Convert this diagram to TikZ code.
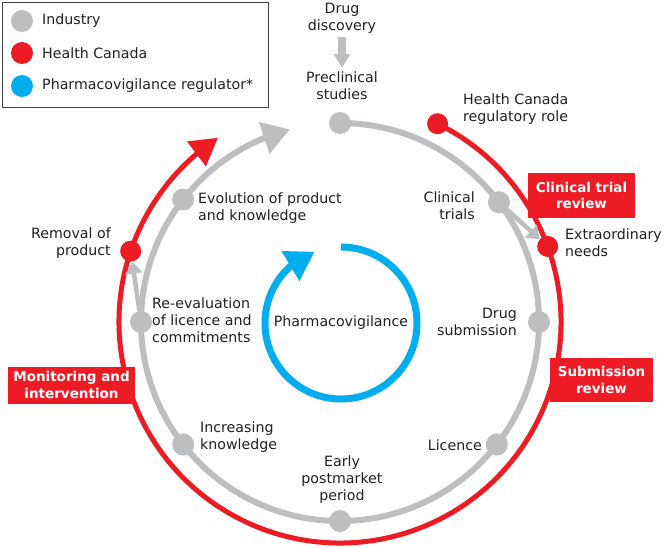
\documentclass[tikz,border=0pt]{standalone}
\usepackage{fontspec}
\setmainfont{DejaVu Sans}
\usetikzlibrary{arrows.meta,bending,calc}
\definecolor{ind}{HTML}{BCBEC0}
\definecolor{hc}{HTML}{ED1C24}
\definecolor{pv}{HTML}{00AEEF}
\definecolor{txt}{HTML}{231F20}
\tikzset{
  gdot/.style={circle,fill=ind,minimum size=22pt,inner sep=0pt},
  rdot/.style={circle,fill=hc,minimum size=21pt,inner sep=0pt},
  bdot/.style={circle,fill=pv,minimum size=22pt,inner sep=0pt},
  lbl/.style={inner sep=0pt,text=txt},
  redbox/.style={fill=hc,text=white,inner sep=0pt,align=center,font=\fontsize{13.5}{16.5}\selectfont\bfseries},
  garrow/.style={ind,line width=4.5pt,-{Triangle[length=12pt,width=17pt]}},
}
\begin{document}
\begin{tikzpicture}[x=1pt,y=1pt,font=\fontsize{14.2}{17}\selectfont]
\useasboundingbox (0,0) rectangle (666,-548);
\fill[white] (0,0) rectangle (666,-548);
\coordinate (C) at (340,-322);
\coordinate (C2) at (341,-323);

% main cycles
\draw[ind,line width=6pt,-{Triangle[length=27pt,width=32pt]}]
  ([shift={(90:199pt)}]C) arc[start angle=90,end angle=-255.4,radius=199pt];
\draw[hc,line width=5pt,-{Triangle[length=27pt,width=30pt]}]
  ([shift={(63.8:221pt)}]C) arc[start angle=63.8,end angle=-236.5,radius=221pt];
\draw[pv,line width=7pt,-{Triangle[length=28pt,width=33pt]}]
  ([shift={(90:76pt)}]C2) arc[start angle=90,end angle=-249.6,radius=76pt];

% industry dots
\node[gdot] (pre) at ([shift={(90:199pt)}]C) {};
\node[gdot] (ct)  at ([shift={(37:199pt)}]C) {};
\node[gdot] (ds)  at ([shift={(0:199pt)}]C) {};
\node[gdot] (li)  at ([shift={(-38:199pt)}]C) {};
\node[gdot] (ep)  at ([shift={(-90:199pt)}]C) {};
\node[gdot] (ik)  at ([shift={(-142:199pt)}]C) {};
\node[gdot] (re)  at ([shift={(180:199pt)}]C) {};
\node[gdot] (ev)  at ([shift={(142:199pt)}]C) {};
% health canada dots
\node[rdot] (hcd) at ([shift={(63.8:221pt)}]C) {};
\node[rdot] (ex)  at ([shift={(20:221pt)}]C) {};
\node[rdot] (rm)  at ([shift={(161.3:221pt)}]C) {};

% branch arrows
\draw[garrow] (ct) -- (ex);
\draw[garrow] (re) -- (rm);

% labels
\node[lbl,align=center] (dd) at (342,-18) {Drug\\discovery};
\node[lbl,align=center] (pc) at (342,-86) {Preclinical\\studies};
\draw[ind,line width=8pt,-{Triangle[length=14pt,width=16pt]},shorten <=4pt,shorten >=4pt] (dd) -- (pc);
\node[lbl,align=left,anchor=west] (hcl) at (463,-109) {Health Canada\\regulatory role};
\node[lbl,align=right,anchor=east] (ctl) at (475,-206) {Clinical\\trials};
\node[lbl,align=left,anchor=west] (exl) at (565,-243) {Extraordinary\\needs};
\node[lbl,align=right,anchor=east] (dsl) at (517,-322) {Drug\\submission};
\node[lbl,anchor=east] (lil) at (482,-445) {Licence};
\node[lbl,align=center] (epl) at (342,-480) {Early\\postmarket\\period};
\node[lbl,align=left,anchor=west] (ikl) at (200,-437) {Increasing\\knowledge};
\node[lbl,align=left,anchor=west] (rel) at (152,-320) {Re-evaluation\\of licence and\\commitments};
\node[lbl,align=left,anchor=west] (evl) at (198,-208) {Evolution of product\\and knowledge};
\node[lbl,align=right,anchor=east] (rml) at (111,-243) {Removal of\\product};
\node[lbl] (pvl) at (341,-323) {Pharmacovigilance};

% red boxes
\node[redbox,minimum width=107pt,minimum height=45pt] (ctr) at (581.5,-195.5) {Clinical trial\\review};
\node[redbox,minimum width=103pt,minimum height=44pt] (sbr) at (601.5,-380) {Submission\\review};
\node[redbox,minimum width=127pt,minimum height=37pt] (mir) at (71.5,-385) {Monitoring and\\intervention};

% legend
\node[draw=txt!85,line width=1.2pt,minimum width=266pt,minimum height=105pt,anchor=north west,inner sep=0pt] (legend) at (2,-2) {};
\node[gdot] (lg1) at (22,-21) {};
\node[rdot,minimum size=22pt] (lg2) at (22,-53) {};
\node[bdot] (lg3) at (22,-86) {};
\node[lbl,anchor=west] (lt1) at (42,-21) {Industry};
\node[lbl,anchor=west] (lt2) at (42,-53) {Health Canada};
\node[lbl,anchor=west] (lt3) at (42,-86) {Pharmacovigilance regulator*};
\end{tikzpicture}
\end{document}
